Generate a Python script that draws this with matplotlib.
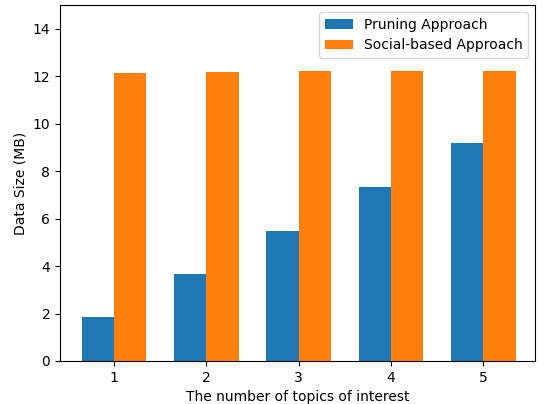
import numpy as np
import matplotlib.pyplot as plt

topics = [1, 2, 3, 4, 5]
pruning = [1.85, 3.66, 5.48, 7.34, 9.2]
social = [12.12, 12.16, 12.2, 12.24, 12.24]

width = 0.35
x = np.array(topics)

fig = plt.figure(figsize=(5.48, 4.04), dpi=100)
ax = fig.add_axes([60 / 548, 1 - 361 / 404, 475 / 548, 356 / 404])
ax.bar(x - width / 2, pruning, width, color='#1f77b4', label='Pruning Approach')
ax.bar(x + width / 2, social, width, color='#ff7f0e', label='Social-based Approach')

ax.set_xticks(topics)
ax.set_xlim(0.415, 5.56)
ax.set_ylim(0, 15)
ax.set_yticks(range(0, 15, 2))
ax.set_xlabel('The number of topics of interest')
ax.set_ylabel('Data Size (MB)')
ax.legend(loc='upper right')

fig.savefig('out.png', dpi=100)
